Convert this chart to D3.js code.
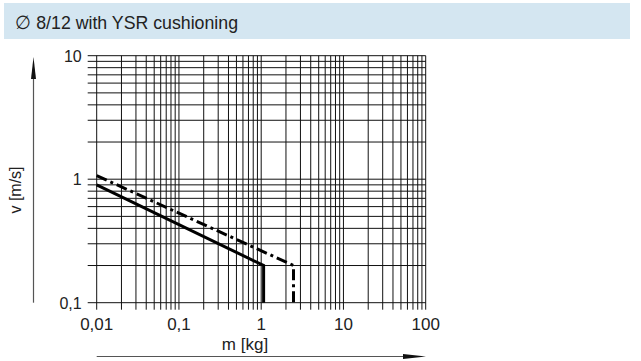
<!DOCTYPE html>
<html>
<head>
<meta charset="utf-8">
<script src="https://cdn.jsdelivr.net/npm/d3@7"></script>
<style>
  body { margin: 0; background: #fff; }
  text { font-family: "Liberation Sans", Arial, sans-serif; fill: #222; }
</style>
</head>
<body>
<div id="chart"></div>
<script>
const width = 641, height = 361;

// chart data
const title = "\u2205 8/12 with YSR cushioning";
const massTicks = [0.01, 0.1, 1, 10, 100];
const massLabels = ["0,01", "0,1", "1", "10", "100"];
const speedTicks = [0.1, 1, 10];
const speedLabels = ["0,1", "1", "10"];
const solidCurve = [{ m: 0.01, v: 0.9 }, { m: 1.07, v: 0.2 }, { m: 1.07, v: 0.1 }];
const dashCurve = [{ m: 0.01, v: 1.07 }, { m: 2.47, v: 0.2 }, { m: 2.47, v: 0.1 }];

const svg = d3.select("#chart")
    .append("svg")
    .attr("width", width)
    .attr("height", height);

// title bar
svg.append("rect")
    .attr("x", 4).attr("y", 3)
    .attr("width", 626).attr("height", 36)
    .attr("fill", "#d4e6f1");
svg.append("text")
    .attr("x", 15).attr("y", 29)
    .attr("font-size", 18.5)
    .attr("textLength", 223)
    .attr("lengthAdjust", "spacingAndGlyphs")
    .text(title);

const x = d3.scaleLog().domain([0.01, 100]).range([96.7, 425.7]);
const y = d3.scaleLog().domain([0.1, 10]).range([302.7, 55.7]);

// minor + major grid values
const gridVals = (lo, hi) => {
    const out = [];
    for (let e = Math.log10(lo); e < Math.log10(hi); e++)
        for (let k = 1; k < 10; k++) out.push(k * Math.pow(10, e));
    out.push(hi);
    return out;
};

const grid = svg.append("g").attr("stroke", "#111").attr("stroke-width", 1);

grid.selectAll(".vline")
    .data(gridVals(0.01, 100))
    .enter().append("line")
    .attr("class", "vline")
    .attr("x1", d => x(d)).attr("x2", d => x(d))
    .attr("y1", y(10)).attr("y2", y(0.1) + 7);

grid.selectAll(".hline")
    .data(gridVals(0.1, 10))
    .enter().append("line")
    .attr("class", "hline")
    .attr("x1", x(0.01) - 9).attr("x2", x(100))
    .attr("y1", d => y(d)).attr("y2", d => y(d));

// tick labels
svg.selectAll(".xlab")
    .data(massTicks)
    .enter().append("text")
    .attr("x", d => x(d))
    .attr("y", y(0.1) + 27)
    .attr("text-anchor", "middle")
    .attr("font-size", 17)
    .text((d, i) => massLabels[i]);

svg.selectAll(".ylab")
    .data(speedTicks)
    .enter().append("text")
    .attr("x", x(0.01) - 15)
    .attr("y", d => y(d) + 6)
    .attr("text-anchor", "end")
    .attr("font-size", 16)
    .text((d, i) => speedLabels[i]);

svg.append("text")
    .attr("x", 245).attr("y", 350)
    .attr("text-anchor", "middle")
    .attr("font-size", 17)
    .text("m [kg]");

svg.append("text")
    .attr("transform", "translate(21,190) rotate(-90)")
    .attr("text-anchor", "middle")
    .attr("font-size", 16)
    .text("v [m/s]");

// axis arrows
svg.append("line")
    .attr("x1", 33.5).attr("x2", 33.5)
    .attr("y1", 302.7).attr("y2", 70)
    .attr("stroke", "#555").attr("stroke-width", 1.2);
svg.append("path")
    .attr("d", "M33.5,57 L31,79 L36,79 Z")
    .attr("fill", "#111");

svg.append("line")
    .attr("x1", x(0.01)).attr("x2", 410)
    .attr("y1", 356.5).attr("y2", 356.5)
    .attr("stroke", "#555").attr("stroke-width", 1.2);
svg.append("path")
    .attr("d", "M426,356.5 L403,354 L403,359 Z")
    .attr("fill", "#111");

// curves
const line = d3.line().x(d => x(d.m)).y(d => y(d.v));

svg.append("path")
    .datum(solidCurve)
    .attr("d", line)
    .attr("fill", "none")
    .attr("stroke", "#000")
    .attr("stroke-width", 3);

svg.append("path")
    .datum(dashCurve)
    .attr("d", line)
    .attr("fill", "none")
    .attr("stroke", "#000")
    .attr("stroke-width", 3)
    .attr("stroke-dasharray", "11,4,3,4");
</script>
</body>
</html>
